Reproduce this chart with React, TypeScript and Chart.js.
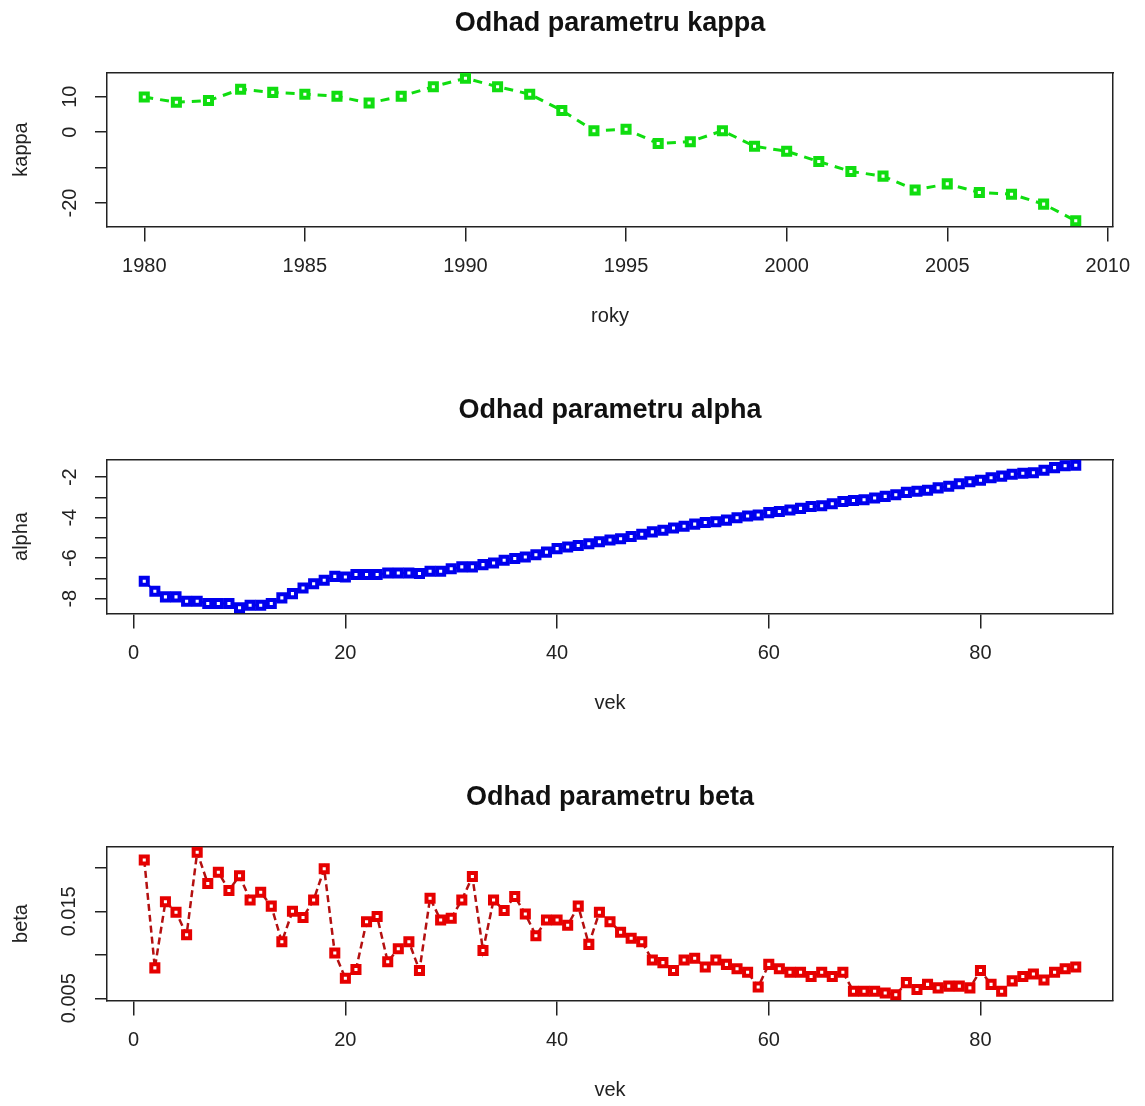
import React, { useEffect, useRef } from 'react';
import { Chart, registerables } from 'chart.js';

Chart.register(...registerables);

const FONT = '"Liberation Sans", Arial, Helvetica, sans-serif';
const INK = '#222222';

// ---------- data ----------
const years = [1980, 1981, 1982, 1983, 1984, 1985, 1986, 1987, 1988, 1989, 1990, 1991, 1992, 1993, 1994,
  1995, 1996, 1997, 1998, 1999, 2000, 2001, 2002, 2003, 2004, 2005, 2006, 2007, 2008, 2009];
const kappa = [9.9, 8.4, 8.9, 12.1, 11.2, 10.7, 10.1, 8.2, 10.1, 12.8, 15.2, 12.8, 10.7, 6.1, 0.4,
  0.8, -3.2, -2.7, 0.4, -4.0, -5.4, -8.3, -11.1, -12.4, -16.3, -14.6, -17.0, -17.5, -20.3, -25.0];

const ages = [1, 2, 3, 4, 5, 6, 7, 8, 9, 10, 11, 12, 13, 14, 15, 16, 17, 18, 19, 20, 21, 22, 23, 24, 25,
  26, 27, 28, 29, 30, 31, 32, 33, 34, 35, 36, 37, 38, 39, 40, 41, 42, 43, 44, 45, 46, 47, 48, 49, 50,
  51, 52, 53, 54, 55, 56, 57, 58, 59, 60, 61, 62, 63, 64, 65, 66, 67, 68, 69, 70, 71, 72, 73, 74, 75,
  76, 77, 78, 79, 80, 81, 82, 83, 84, 85, 86, 87, 88, 89];

const alpha = [-7.14, -7.63, -7.91, -7.91, -8.13, -8.13, -8.24, -8.24, -8.24, -8.45,
  -8.32, -8.32, -8.24, -7.96, -7.75, -7.47, -7.26, -7.09, -6.90, -6.93,
  -6.81, -6.81, -6.81, -6.73, -6.73, -6.73, -6.76, -6.65, -6.65, -6.52,
  -6.43, -6.43, -6.32, -6.24, -6.10, -6.02, -5.94, -5.83, -5.70, -5.53,
  -5.45, -5.37, -5.29, -5.19, -5.10, -5.04, -4.93, -4.82, -4.70, -4.62,
  -4.51, -4.42, -4.32, -4.24, -4.20, -4.12, -4.00, -3.92, -3.87, -3.75,
  -3.70, -3.62, -3.54, -3.45, -3.41, -3.31, -3.20, -3.15, -3.12, -3.03,
  -2.95, -2.87, -2.75, -2.70, -2.65, -2.53, -2.45, -2.33, -2.23, -2.15,
  -2.03, -1.95, -1.86, -1.81, -1.78, -1.66, -1.53, -1.44, -1.41];

const beta = [0.0209, 0.0085, 0.0161, 0.0149, 0.0123, 0.0218, 0.0182, 0.0195, 0.0174, 0.0191,
  0.0163, 0.0172, 0.0156, 0.0115, 0.0150, 0.0143, 0.0163, 0.0199, 0.0102, 0.0073,
  0.0083, 0.0138, 0.0144, 0.0092, 0.0107, 0.0115, 0.0082, 0.0165, 0.0140, 0.0142,
  0.0163, 0.0190, 0.0105, 0.0163, 0.0151, 0.0167, 0.0147, 0.0122, 0.0140, 0.0140,
  0.0134, 0.0156, 0.0112, 0.0149, 0.0138, 0.0126, 0.0119, 0.0115, 0.0094, 0.0091,
  0.0082, 0.0094, 0.0096, 0.0086, 0.0094, 0.0089, 0.0084, 0.0080, 0.0063, 0.0089,
  0.0084, 0.0080, 0.0080, 0.0075, 0.0080, 0.0075, 0.0080, 0.0058, 0.0058, 0.0058,
  0.0056, 0.0054, 0.0068, 0.0060, 0.0066, 0.0062, 0.0064, 0.0064, 0.0062, 0.0082,
  0.0066, 0.0058, 0.0070, 0.0075, 0.0078, 0.0071, 0.0080, 0.0084, 0.0086];

const yearTicks = [1980, 1985, 1990, 1995, 2000, 2005, 2010];
const ageTicks = [0, 20, 40, 60, 80];
const kappaTicks = [-20, -10, 0, 10];
const kappaTickLabels = ['-20', '', '0', '10'];
const alphaTicks = [-8, -7, -6, -5, -4, -3, -2];
const alphaTickLabels = ['-8', '', '-6', '', '-4', '', '-2'];
const betaTicks = [0.005, 0.01, 0.015, 0.02];
const betaTickLabels = ['0.005', '', '0.015', ''];

// ---------- layout ----------
const W = 1145;
const H = 387;
const AREA_LEFT = 107;
const AREA_RIGHT = 1113;
const AREA_TOP = 72.5;
const AREA_BOTTOM = 226.5;
const X_AXIS_H = 110;
const X_TICK_LEN = 15;
const Y_TICK_LEN = 12;
const Y_LABEL_CX = 70;
const TITLE_SIZE = 27;
const TICK_SIZE = 20;
const AXTITLE_SIZE = 20;

function rRange(v: number[]): [number, number] {
  const mn = Math.min(...v);
  const mx = Math.max(...v);
  const d = (mx - mn) * 0.04;
  return [mn - d, mx + d];
}

type PanelProps = {
  top: number;
  title: string;
  xTitle: string;
  yTitle: string;
  xs: number[];
  ys: number[];
  xTicks: number[];
  yTicks: number[];
  yLabels: string[];
  lineColor: string;
  pointColor: string;
  lineWidth: number;
  dash: number[];
};

function Panel(p: PanelProps) {
  const ref = useRef<HTMLCanvasElement>(null);
  useEffect(() => {
    const [xmin, xmax] = rRange(p.xs);
    const [ymin, ymax] = rRange(p.ys);
    const meas = document.createElement('canvas').getContext('2d')!;
    meas.font = `${TICK_SIZE}px ${FONT}`;
    const widest = Math.max(...p.yLabels.map((l) => meas.measureText(l).width));
    const yPad = Math.max(0, AREA_LEFT - Y_TICK_LEN - Y_LABEL_CX - widest / 2);
    const titleLH = TITLE_SIZE * 1.2;
    const data = p.xs.map((x, i) => ({ x, y: p.ys[i] }));

    const chart = new Chart(ref.current!, {
      type: 'line',
      data: {
        datasets: [
          {
            data,
            xAxisID: 'x',
            yAxisID: 'y',
            borderColor: p.lineColor,
            borderWidth: p.lineWidth,
            borderDash: p.dash,
            tension: 0,
            fill: false,
            pointStyle: 'rect',
            pointRadius: 5,
            pointBorderWidth: 4,
            pointBorderColor: p.pointColor,
            pointBackgroundColor: '#ffffff',
          },
        ],
      },
      options: {
        responsive: false,
        animation: false,
        events: [],
        layout: {
          padding: { left: 0, top: 0, right: W - AREA_RIGHT, bottom: H - AREA_BOTTOM - X_AXIS_H },
        },
        plugins: {
          legend: { display: false },
          tooltip: { enabled: false },
          title: {
            display: true,
            text: p.title,
            fullSize: false,
            color: '#111111',
            font: { family: FONT, size: TITLE_SIZE, weight: 'bold', lineHeight: 1.2 },
            padding: { top: 24 - titleLH / 2, bottom: AREA_TOP - 24 - titleLH / 2 },
          },
        },
        scales: {
          x: {
            type: 'linear',
            position: 'bottom',
            min: xmin,
            max: xmax,
            afterBuildTicks: (s: any) => {
              s.ticks = p.xTicks.map((v) => ({ value: v }));
            },
            afterFit: (s: any) => {
              s.height = X_AXIS_H;
            },
            grid: {
              display: true,
              drawOnChartArea: false,
              drawTicks: true,
              tickLength: X_TICK_LEN,
              color: INK,
              lineWidth: 1.5,
            },
            border: { display: true, color: INK, width: 1.5 },
            ticks: {
              autoSkip: false,
              maxRotation: 0,
              minRotation: 0,
              padding: 266 - AREA_BOTTOM - X_TICK_LEN - (TICK_SIZE * 1.2) / 2,
              color: INK,
              font: { family: FONT, size: TICK_SIZE, lineHeight: 1.2 },
              callback: (_v: any, i: number) => String(p.xTicks[i]),
            },
            title: {
              display: true,
              text: p.xTitle,
              color: INK,
              font: { family: FONT, size: AXTITLE_SIZE, lineHeight: 1.2 },
              padding: { top: 0, bottom: AREA_BOTTOM + X_AXIS_H - 316 - (AXTITLE_SIZE * 1.2) / 2 },
            },
          },
          y: {
            type: 'linear',
            position: 'left',
            min: ymin,
            max: ymax,
            afterBuildTicks: (s: any) => {
              s.ticks = p.yTicks.map((v) => ({ value: v }));
            },
            afterFit: (s: any) => {
              s.width = AREA_LEFT;
            },
            grid: {
              display: true,
              drawOnChartArea: false,
              drawTicks: true,
              tickLength: Y_TICK_LEN,
              color: INK,
              lineWidth: 1.5,
            },
            border: { display: true, color: INK, width: 1.5 },
            ticks: {
              autoSkip: false,
              minRotation: 90,
              maxRotation: 90,
              crossAlign: 'center',
              padding: yPad,
              color: INK,
              font: { family: FONT, size: TICK_SIZE, lineHeight: 1.2 },
              callback: (_v: any, i: number) => p.yLabels[i],
            },
            title: {
              display: true,
              text: p.yTitle,
              color: INK,
              font: { family: FONT, size: AXTITLE_SIZE, lineHeight: 1.2 },
              padding: { top: 21 - (AXTITLE_SIZE * 1.2) / 2, bottom: 0 },
            },
          },
          xTop: {
            type: 'linear',
            position: 'top',
            min: 0,
            max: 1,
            afterFit: (s: any) => {
              s.height = 0;
            },
            grid: { display: false, drawTicks: false },
            ticks: { display: false },
            border: { display: true, color: INK, width: 1.5 },
          },
          yRight: {
            type: 'linear',
            position: 'right',
            min: 0,
            max: 1,
            afterFit: (s: any) => {
              s.width = 0;
            },
            grid: { display: false, drawTicks: false },
            ticks: { display: false },
            border: { display: true, color: INK, width: 1.5 },
          },
        },
      } as any,
    });
    return () => chart.destroy();
  }, []);
  return (
    <canvas
      ref={ref}
      width={W}
      height={H}
      style={{ position: 'absolute', left: 0, top: p.top, width: W, height: H, display: 'block' }}
    />
  );
}

export default function App() {
  return (
    <div
      style={{
        position: 'absolute',
        left: 0,
        top: 0,
        width: W,
        height: 1106,
        overflow: 'hidden',
        background: '#ffffff',
      }}
    >
      <Panel
        top={0}
        title="Odhad parametru kappa"
        xTitle="roky"
        yTitle="kappa"
        xs={years}
        ys={kappa}
        xTicks={yearTicks}
        yTicks={kappaTicks}
        yLabels={kappaTickLabels}
        lineColor="#10dd10"
        pointColor="#10dd10"
        lineWidth={3}
        dash={[9, 7]}
      />
      <Panel
        top={387}
        title="Odhad parametru alpha"
        xTitle="vek"
        yTitle="alpha"
        xs={ages}
        ys={alpha}
        xTicks={ageTicks}
        yTicks={alphaTicks}
        yLabels={alphaTickLabels}
        lineColor="#0000aa"
        pointColor="#0000ee"
        lineWidth={2}
        dash={[]}
      />
      <Panel
        top={774}
        title="Odhad parametru beta"
        xTitle="vek"
        yTitle="beta"
        xs={ages}
        ys={beta}
        xTicks={ageTicks}
        yTicks={betaTicks}
        yLabels={betaTickLabels}
        lineColor="#b41010"
        pointColor="#e60000"
        lineWidth={2.5}
        dash={[7, 4]}
      />
    </div>
  );
}
